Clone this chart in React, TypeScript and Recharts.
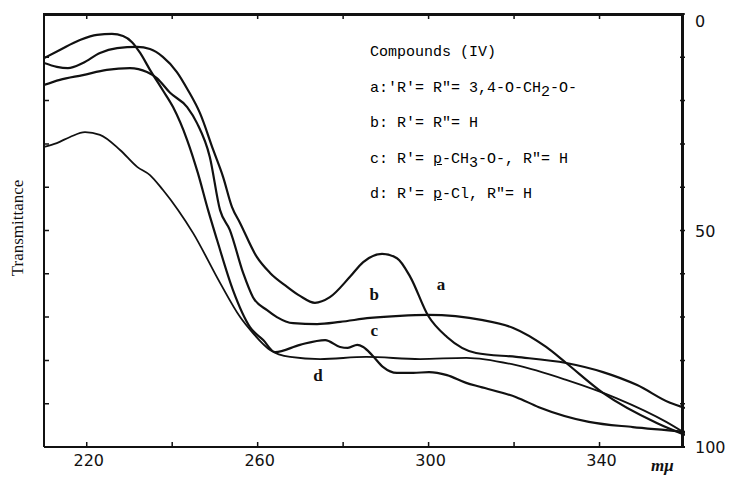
/* UV spectra of compounds (IV), transmittance vs wavelength. */

import { LineChart, Line, XAxis, YAxis, ReferenceDot } from "recharts";

// [wavelength (mμ), transmittance reading on the 0 (top) - 100 (bottom) scale]
const curveA: [number, number][] = [
  [210, 11.3], [213, 12.2], [215.6, 12.5], [219.1, 11.3], [223.1, 9.0], [227.1, 7.9],
  [231.8, 7.6], [234.8, 8.1], [237.8, 9.9], [241.1, 13.4], [243.7, 17.6], [246.5, 22.9],
  [249.6, 31.4], [251.9, 37.6], [254, 44.6], [255.9, 48.3], [259.8, 56.1], [262.9, 59.8],
  [266.9, 63.0], [269.9, 65.1], [273.4, 66.7], [276.9, 65.4], [281.6, 60.7], [284.7, 57.3],
  [289.1, 55.4], [292.6, 56.4], [295.7, 60.7], [299.9, 69.7], [304.3, 74.6], [311.1, 78.3],
  [320.5, 79.2], [332.2, 80.6], [340.8, 82.7], [348.8, 85.7], [356.5, 89.8], [360, 91.0],
];

const curveB: [number, number][] = [
  [210, 16.4], [213.7, 15.2], [219.1, 14.1], [224.7, 12.9], [230.1, 12.5], [234.1, 13.4],
  [236.4, 14.8], [239.5, 18.2], [243.5, 21.5], [245.8, 25.2], [248.8, 33.0], [251.2, 45.3],
  [253.5, 49.9], [256.6, 59.8], [258.9, 65.4], [262.2, 68.4], [264.5, 70.0], [268.3, 71.4],
  [273.9, 71.6], [279.3, 71.1], [286.3, 70.2], [293.3, 69.7], [299.9, 69.5], [312.7, 70.7],
  [319.8, 72.5], [327.5, 76.9], [332.2, 80.6], [340.8, 87.5], [353.5, 94.5], [360, 97.2],
];

const curveC: [number, number][] = [
  [210, 10.2], [213.7, 8.3], [218.4, 6.0], [222.4, 4.8], [225.9, 4.6], [228.5, 5.1],
  [230.6, 6.5], [232.5, 9.0], [234.8, 12.9], [237.8, 17.6], [240.2, 21.5], [243.5, 29.1],
  [246, 36.7], [248.4, 45.3], [250.5, 52.2], [254.2, 63.7], [258.2, 72.3], [261.3, 75.3],
  [264.1, 78.1], [269.9, 76.4], [275.8, 75.3], [279.3, 76.9], [281.1, 77.1], [283.3, 76.4],
  [284.7, 76.9], [286.8, 78.8], [289.3, 81.5], [292.6, 82.9], [296.4, 82.9], [300.1, 82.7],
  [304.3, 83.4], [308.8, 85.2], [312, 86.1], [320.5, 88.5], [325.8, 90.8], [337.5, 94.2],
  [347.8, 95.4], [355.6, 96.1], [360, 96.5],
];

const curveD: [number, number][] = [
  [210, 30.7], [213, 29.8], [216.1, 28.4], [219.6, 27.3], [223.1, 27.9], [227.8, 31.4],
  [231.8, 35.3], [234.8, 37.2], [237.8, 40.6], [241.4, 45.3], [244.9, 50.6], [251.2, 62.1],
  [255.9, 70.0], [258.9, 73.7], [262.9, 77.6], [267.6, 79.2], [274.6, 79.7], [285.4, 79.2],
  [298, 79.7], [308.8, 79.4], [320.5, 81.1], [332.2, 84.5], [343.9, 88.7], [355.6, 94.2],
  [360, 96.8],
];

const xDomain: [number, number] = [210, 360];
const xTicks = [220, 240, 260, 280, 300, 320, 340];
const xLabels = [220, 260, 300, 340];
const yTicks = [0, 10, 20, 30, 40, 50, 60, 70, 80, 90, 100];
const yLabels = [0, 50, 100];

// curve letters: [name, wavelength, transmittance]
const curveLabels: [string, number, number][] = [
  ["a", 302.9, 62.3],
  ["b", 287.3, 64.6],
  ["c", 287.3, 73.0],
  ["d", 274.1, 83.3],
];

const toPoints = (pts: [number, number][]) => pts.map(([w, t]) => ({ w, t }));

const W = 732;
const H = 477;
const margin = { top: 14, right: 7, bottom: 4, left: 10 };
const leftW = 34;
const rightW = 40;
const bottomH = 26;
const plotW = W - margin.left - margin.right - leftW - rightW;
const plotH = H - margin.top - margin.bottom - bottomH;

const ink = "#111";
const tickFont = "'DejaVu Sans', sans-serif";
const mono = "'Liberation Mono', monospace";

// bottom axis tick also draws its partner on the top edge
function BottomTick({ x, y, payload }: any) {
  return (
    <g>
      <path d={`M${x},${y}V${y - 5}M${x},${y - plotH}V${y - plotH + 5}`} stroke={ink} strokeWidth={1.5} fill="none" />
      {xLabels.includes(payload.value) && (
        <text x={x + 2} y={y + 19} textAnchor="middle" fontSize={16} fontFamily={tickFont} fill={ink}>
          {payload.value}
        </text>
      )}
    </g>
  );
}

// left axis tick also draws its partner on the right edge
function LeftTick({ x, y }: any) {
  return (
    <path d={`M${x},${y}H${x + 5}M${x + plotW},${y}H${x + plotW - 5}`} stroke={ink} strokeWidth={1.5} fill="none" />
  );
}

function RightTick({ x, y, payload }: any) {
  if (!yLabels.includes(payload.value)) return <g />;
  return (
    <text x={x + 10} y={y + (payload.value === 0 ? 13 : 6)} fontSize={16} fontFamily={tickFont} fill={ink}>
      {payload.value}
    </text>
  );
}

const series: [string, [number, number][], number][] = [
  ["a", curveA, 2.2],
  ["b", curveB, 2.2],
  ["c", curveC, 2.2],
  ["d", curveD, 1.8],
];

export default function App() {
  return (
    <div style={{ position: "absolute", left: 0, top: 0, width: W, height: H, background: "#fff" }}>
      <LineChart width={W} height={H} margin={margin}>
        <XAxis
          xAxisId="bottom"
          dataKey="w"
          type="number"
          domain={xDomain}
          ticks={xTicks}
          allowDataOverflow
          height={bottomH}
          tickSize={0}
          tickMargin={0}
          tickLine={false}
          axisLine={{ stroke: ink, strokeWidth: 2 }}
          tick={<BottomTick />}
        />
        <YAxis
          yAxisId="left"
          type="number"
          domain={[0, 100]}
          reversed
          ticks={yTicks}
          width={leftW}
          tickSize={0}
          tickMargin={0}
          tickLine={false}
          axisLine={{ stroke: ink, strokeWidth: 2 }}
          tick={<LeftTick />}
        />
        <YAxis
          yAxisId="right"
          orientation="right"
          type="number"
          domain={[0, 100]}
          reversed
          ticks={yTicks}
          width={rightW}
          tickSize={0}
          tickMargin={0}
          tickLine={false}
          axisLine={false}
          tick={<RightTick />}
        />

        {series.map(([name, pts, sw]) => (
          <Line
            key={name}
            xAxisId="bottom"
            yAxisId="left"
            data={toPoints(pts)}
            dataKey="t"
            type="monotone"
            stroke={ink}
            strokeWidth={sw}
            dot={false}
            isAnimationActive={false}
          />
        ))}
        {/* invisible copy so the right-hand scale gets drawn */}
        <Line
          xAxisId="bottom"
          yAxisId="right"
          data={toPoints(curveA)}
          dataKey="t"
          type="monotone"
          stroke="none"
          strokeOpacity={0}
          dot={false}
          activeDot={false}
          isAnimationActive={false}
        />
        {curveLabels.map(([name, w, t]) => (
          <ReferenceDot
            key={name}
            xAxisId="bottom"
            yAxisId="left"
            x={w}
            y={t}
            r={0}
            fill="none"
            stroke="none"
            label={{ value: name, position: "center", fontSize: 17, fontFamily: "'Liberation Serif', serif", fill: ink, fontWeight: 600 }}
          />
        ))}
      </LineChart>

      {/* plot frame */}
      <div
        style={{
          position: "absolute",
          left: margin.left + leftW - 1,
          top: margin.top - 1,
          width: plotW,
          height: plotH,
          borderTop: "3px solid #111",
          borderRight: "3px solid #111",
          boxSizing: "border-box",
          pointerEvents: "none",
        }}
      />

      <div
        style={{
          position: "absolute",
          left: 18,
          top: 228,
          transform: "translate(-50%, -50%) rotate(-90deg)",
          fontFamily: "'Liberation Serif', serif",
          fontSize: 17,
          whiteSpace: "nowrap",
          color: ink,
        }}
      >
        Transmittance
      </div>

      <div
        style={{
          position: "absolute",
          left: 370,
          top: 35,
          fontFamily: mono,
          fontSize: 15,
          lineHeight: "35.5px",
          color: "#000",
          whiteSpace: "pre",
        }}
      >
        <div>Compounds (IV)</div>
        <div>a:'R'= R"= 3,4-O-CH<sub style={{ fontSize: 15, lineHeight: 0 }}>2</sub>-O-</div>
        <div>b: R'= R"= H</div>
        <div>c: R'= <u>p</u>-CH<sub style={{ fontSize: 15, lineHeight: 0 }}>3</sub>-O-, R"= H</div>
        <div>d: R'= <u>p</u>-Cl, R"= H</div>
      </div>

      <div
        style={{
          position: "absolute",
          left: 651,
          top: 456,
          fontFamily: "'Liberation Serif', serif",
          fontStyle: "italic",
          fontWeight: 700,
          fontSize: 17,
          color: ink,
        }}
      >
        mμ
      </div>
    </div>
  );
}
